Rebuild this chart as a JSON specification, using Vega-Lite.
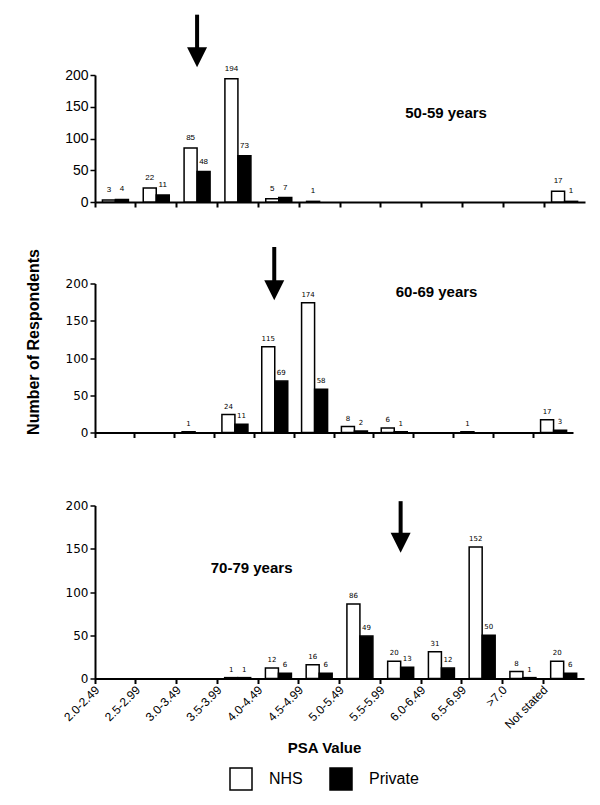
{
  "$schema": "https://vega.github.io/schema/vega-lite/v6.json",
  "padding": {"left": 25, "top": 12, "right": 5, "bottom": 5},
  "background": "white",
  "config": {
    "view": {"stroke": null},
    "font": "Liberation Sans",
    "axis": {"domainColor": "black", "domainWidth": 2, "tickColor": "black", "tickWidth": 1.5, "tickSize": 5, "labelColor": "black", "titleColor": "black", "grid": false, "labelPadding": 2},
    "legend": {"symbolType": "square", "symbolSize": 484, "symbolStrokeColor": "black", "symbolStrokeWidth": 1.5, "symbolOpacity": 1, "labelFontSize": 16, "labelOffset": 16, "columnPadding": 24, "labelColor": "black"}
  },
  "datasets": {
    "bars": [
      {"panel": "50-59", "psa": "2.0-2.49", "sector": "NHS", "n": 3},
      {"panel": "50-59", "psa": "2.0-2.49", "sector": "Private", "n": 4},
      {"panel": "50-59", "psa": "2.5-2.99", "sector": "NHS", "n": 22},
      {"panel": "50-59", "psa": "2.5-2.99", "sector": "Private", "n": 11},
      {"panel": "50-59", "psa": "3.0-3.49", "sector": "NHS", "n": 85},
      {"panel": "50-59", "psa": "3.0-3.49", "sector": "Private", "n": 48},
      {"panel": "50-59", "psa": "3.5-3.99", "sector": "NHS", "n": 194},
      {"panel": "50-59", "psa": "3.5-3.99", "sector": "Private", "n": 73},
      {"panel": "50-59", "psa": "4.0-4.49", "sector": "NHS", "n": 5},
      {"panel": "50-59", "psa": "4.0-4.49", "sector": "Private", "n": 7},
      {"panel": "50-59", "psa": "4.5-4.99", "sector": "NHS", "n": 1},
      {"panel": "50-59", "psa": "Not stated", "sector": "NHS", "n": 17},
      {"panel": "50-59", "psa": "Not stated", "sector": "Private", "n": 1},
      {"panel": "60-69", "psa": "3.0-3.49", "sector": "NHS", "n": 1},
      {"panel": "60-69", "psa": "3.5-3.99", "sector": "NHS", "n": 24},
      {"panel": "60-69", "psa": "3.5-3.99", "sector": "Private", "n": 11},
      {"panel": "60-69", "psa": "4.0-4.49", "sector": "NHS", "n": 115},
      {"panel": "60-69", "psa": "4.0-4.49", "sector": "Private", "n": 69},
      {"panel": "60-69", "psa": "4.5-4.99", "sector": "NHS", "n": 174},
      {"panel": "60-69", "psa": "4.5-4.99", "sector": "Private", "n": 58},
      {"panel": "60-69", "psa": "5.0-5.49", "sector": "NHS", "n": 8},
      {"panel": "60-69", "psa": "5.0-5.49", "sector": "Private", "n": 2},
      {"panel": "60-69", "psa": "5.5-5.99", "sector": "NHS", "n": 6},
      {"panel": "60-69", "psa": "5.5-5.99", "sector": "Private", "n": 1},
      {"panel": "60-69", "psa": "6.5-6.99", "sector": "NHS", "n": 1},
      {"panel": "60-69", "psa": "Not stated", "sector": "NHS", "n": 17},
      {"panel": "60-69", "psa": "Not stated", "sector": "Private", "n": 3},
      {"panel": "70-79", "psa": "3.5-3.99", "sector": "NHS", "n": 1},
      {"panel": "70-79", "psa": "3.5-3.99", "sector": "Private", "n": 1},
      {"panel": "70-79", "psa": "4.0-4.49", "sector": "NHS", "n": 12},
      {"panel": "70-79", "psa": "4.0-4.49", "sector": "Private", "n": 6},
      {"panel": "70-79", "psa": "4.5-4.99", "sector": "NHS", "n": 16},
      {"panel": "70-79", "psa": "4.5-4.99", "sector": "Private", "n": 6},
      {"panel": "70-79", "psa": "5.0-5.49", "sector": "NHS", "n": 86},
      {"panel": "70-79", "psa": "5.0-5.49", "sector": "Private", "n": 49},
      {"panel": "70-79", "psa": "5.5-5.99", "sector": "NHS", "n": 20},
      {"panel": "70-79", "psa": "5.5-5.99", "sector": "Private", "n": 13},
      {"panel": "70-79", "psa": "6.0-6.49", "sector": "NHS", "n": 31},
      {"panel": "70-79", "psa": "6.0-6.49", "sector": "Private", "n": 12},
      {"panel": "70-79", "psa": "6.5-6.99", "sector": "NHS", "n": 152},
      {"panel": "70-79", "psa": "6.5-6.99", "sector": "Private", "n": 50},
      {"panel": "70-79", "psa": ">7.0", "sector": "NHS", "n": 8},
      {"panel": "70-79", "psa": ">7.0", "sector": "Private", "n": 1},
      {"panel": "70-79", "psa": "Not stated", "sector": "NHS", "n": 20},
      {"panel": "70-79", "psa": "Not stated", "sector": "Private", "n": 6}
    ],
    "arrows": [
      {"panel": "50-59", "psa": "3.0-3.49", "top": 295, "head": 228},
      {"panel": "60-69", "psa": "4.0-4.49", "top": 249, "head": 191},
      {"panel": "70-79", "psa": "5.5-5.99", "top": 205, "head": 157}
    ],
    "labels": [
      {"panel": "50-59", "psa": "6.0-6.49", "n": 140, "label": "50-59 years"},
      {"panel": "60-69", "psa": "6.0-6.49", "n": 188, "label": "60-69 years"},
      {"panel": "70-79", "psa": "3.5-3.99", "n": 128, "label": "70-79 years"}
    ]
  },
  "spacing": 59.5,
  "vconcat": [
    {
      "spacing": 35.5,
      "vconcat": [
        {
          "width": 490, "height": 127,
          "layer": [
            {
              "data": {"name": "bars"},
              "transform": [{"filter": "datum.panel === '50-59'"}],
              "mark": {"type": "bar", "stroke": "black", "strokeWidth": 1.5},
              "encoding": {
                "x": {"field": "psa", "type": "nominal", "title": null, "scale": {"domain": ["2.0-2.49","2.5-2.99","3.0-3.49","3.5-3.99","4.0-4.49","4.5-4.99","5.0-5.49","5.5-5.99","6.0-6.49","6.5-6.99",">7.0","Not stated"], "paddingInner": 0, "paddingOuter": 0}, "axis": {"labels": false, "bandPosition": 0, "tickWidth": 2}},
                "xOffset": {"field": "sector", "type": "nominal", "scale": {"domain": ["NHS", "Private"], "paddingInner": 0, "paddingOuter": 0.57}},
                "y": {"field": "n", "type": "quantitative", "title": null, "scale": {"domain": [0, 200], "nice": false}, "axis": {"values": [0, 50, 100, 150, 200], "tickCount": 5, "labelOverlap": false, "labelFontSize": 14, "labelFont": "Liberation Sans"}},
                "color": {"field": "sector", "type": "nominal", "scale": {"domain": ["NHS", "Private"], "range": ["white", "black"]}, "legend": {"title": null, "orient": "none", "direction": "horizontal", "legendX": 134, "legendY": 692}}
              }
            },
            {
              "data": {"name": "bars"},
              "transform": [{"filter": "datum.panel === '50-59'"}],
              "mark": {"type": "text", "baseline": "bottom", "dy": -6, "fontSize": 8, "font": "Liberation Sans", "color": "black"},
              "encoding": {
                "x": {"field": "psa", "type": "nominal"},
                "xOffset": {"field": "sector", "type": "nominal"},
                "y": {"field": "n", "type": "quantitative"},
                "text": {"field": "n", "type": "quantitative"}
              }
            },
            {
              "data": {"name": "arrows"},
              "transform": [{"filter": "datum.panel === '50-59'"}],
              "mark": {"type": "rule", "strokeWidth": 4, "color": "black"},
              "encoding": {"x": {"field": "psa", "type": "nominal"}, "y": {"field": "top", "type": "quantitative"}, "y2": {"field": "head"}}
            },
            {
              "data": {"name": "arrows"},
              "transform": [{"filter": "datum.panel === '50-59'"}],
              "mark": {"type": "point", "shape": "M-1,-1L1,-1L0,1Z", "size": 400, "filled": true, "color": "black", "opacity": 1},
              "encoding": {"x": {"field": "psa", "type": "nominal"}, "y": {"field": "head", "type": "quantitative"}}
            },
            {
              "data": {"name": "labels"},
              "transform": [{"filter": "datum.panel === '50-59'"}],
              "mark": {"type": "text", "fontSize": 15, "fontWeight": "bold", "dx": 4, "color": "black"},
              "encoding": {"x": {"field": "psa", "type": "nominal"}, "y": {"field": "n", "type": "quantitative"}, "text": {"field": "label"}}
            }
          ]
        },
        {
          "width": 478, "height": 149,
          "layer": [
            {
              "data": {"name": "bars"},
              "transform": [{"filter": "datum.panel === '60-69'"}],
              "mark": {"type": "bar", "stroke": "black", "strokeWidth": 1.5},
              "encoding": {
                "x": {"field": "psa", "type": "nominal", "title": null, "scale": {"domain": ["2.0-2.49","2.5-2.99","3.0-3.49","3.5-3.99","4.0-4.49","4.5-4.99","5.0-5.49","5.5-5.99","6.0-6.49","6.5-6.99",">7.0","Not stated"], "paddingInner": 0, "paddingOuter": 0}, "axis": {"labels": false, "bandPosition": 0, "tickWidth": 2}},
                "xOffset": {"field": "sector", "type": "nominal", "scale": {"domain": ["NHS", "Private"], "paddingInner": 0, "paddingOuter": 0.57}},
                "y": {"field": "n", "type": "quantitative", "title": "Number of Respondents", "scale": {"domain": [0, 200], "nice": false}, "axis": {"values": [0, 50, 100, 150, 200], "tickCount": 5, "labelOverlap": false, "labelFontSize": 12, "labelFont": "DejaVu Sans", "titleFontSize": 16, "titleFontWeight": "bold", "titleFont": "Liberation Sans", "titlePadding": 24, "titleY": 58}},
                "color": {"field": "sector", "type": "nominal", "scale": {"domain": ["NHS", "Private"], "range": ["white", "black"]}}
              }
            },
            {
              "data": {"name": "bars"},
              "transform": [{"filter": "datum.panel === '60-69'"}],
              "mark": {"type": "text", "baseline": "bottom", "dy": -5, "fontSize": 7, "font": "DejaVu Sans", "color": "black"},
              "encoding": {
                "x": {"field": "psa", "type": "nominal"},
                "xOffset": {"field": "sector", "type": "nominal"},
                "y": {"field": "n", "type": "quantitative"},
                "text": {"field": "n", "type": "quantitative"}
              }
            },
            {
              "data": {"name": "arrows"},
              "transform": [{"filter": "datum.panel === '60-69'"}],
              "mark": {"type": "rule", "strokeWidth": 4, "color": "black"},
              "encoding": {"x": {"field": "psa", "type": "nominal"}, "y": {"field": "top", "type": "quantitative"}, "y2": {"field": "head"}}
            },
            {
              "data": {"name": "arrows"},
              "transform": [{"filter": "datum.panel === '60-69'"}],
              "mark": {"type": "point", "shape": "M-1,-1L1,-1L0,1Z", "size": 400, "filled": true, "color": "black", "opacity": 1},
              "encoding": {"x": {"field": "psa", "type": "nominal"}, "y": {"field": "head", "type": "quantitative"}}
            },
            {
              "data": {"name": "labels"},
              "transform": [{"filter": "datum.panel === '60-69'"}],
              "mark": {"type": "text", "fontSize": 15, "fontWeight": "bold", "dx": 3, "color": "black"},
              "encoding": {"x": {"field": "psa", "type": "nominal"}, "y": {"field": "n", "type": "quantitative"}, "text": {"field": "label"}}
            }
          ]
        }
      ]
    },
    {
      "width": 489, "height": 173,
      "layer": [
        {
          "data": {"name": "bars"},
          "transform": [{"filter": "datum.panel === '70-79'"}],
          "mark": {"type": "bar", "stroke": "black", "strokeWidth": 1.5},
          "encoding": {
            "x": {"field": "psa", "type": "nominal", "title": "PSA Value", "scale": {"domain": ["2.0-2.49","2.5-2.99","3.0-3.49","3.5-3.99","4.0-4.49","4.5-4.99","5.0-5.49","5.5-5.99","6.0-6.49","6.5-6.99",">7.0","Not stated"], "paddingInner": 0, "paddingOuter": 0}, "axis": {"labels": true, "bandPosition": 0, "tickWidth": 2, "labelAngle": -45, "labelAlign": "right", "labelBaseline": "middle", "labelOffset": -18, "labelFontSize": 12, "labelPadding": 4, "titleFontSize": 15, "titleFontWeight": "bold", "titlePadding": 10, "titleX": 229}},
            "xOffset": {"field": "sector", "type": "nominal", "scale": {"domain": ["NHS", "Private"], "paddingInner": 0, "paddingOuter": 0.57}},
            "y": {"field": "n", "type": "quantitative", "title": null, "scale": {"domain": [0, 200], "nice": false}, "axis": {"values": [0, 50, 100, 150, 200], "tickCount": 5, "labelOverlap": false, "labelFontSize": 12, "labelFont": "DejaVu Sans"}},
            "color": {"field": "sector", "type": "nominal", "scale": {"domain": ["NHS", "Private"], "range": ["white", "black"]}}
          }
        },
        {
          "data": {"name": "bars"},
          "transform": [{"filter": "datum.panel === '70-79'"}],
          "mark": {"type": "text", "baseline": "bottom", "dy": -5, "fontSize": 7, "font": "DejaVu Sans", "color": "black"},
          "encoding": {
            "x": {"field": "psa", "type": "nominal"},
            "xOffset": {"field": "sector", "type": "nominal"},
            "y": {"field": "n", "type": "quantitative"},
            "text": {"field": "n", "type": "quantitative"}
          }
        },
        {
          "data": {"name": "arrows"},
          "transform": [{"filter": "datum.panel === '70-79'"}],
          "mark": {"type": "rule", "strokeWidth": 4, "color": "black"},
          "encoding": {"x": {"field": "psa", "type": "nominal"}, "y": {"field": "top", "type": "quantitative"}, "y2": {"field": "head"}}
        },
        {
          "data": {"name": "arrows"},
          "transform": [{"filter": "datum.panel === '70-79'"}],
          "mark": {"type": "point", "shape": "M-1,-1L1,-1L0,1Z", "size": 400, "filled": true, "color": "black", "opacity": 1},
          "encoding": {"x": {"field": "psa", "type": "nominal"}, "y": {"field": "head", "type": "quantitative"}}
        },
        {
          "data": {"name": "labels"},
          "transform": [{"filter": "datum.panel === '70-79'"}],
          "mark": {"type": "text", "fontSize": 15, "fontWeight": "bold", "dx": 14, "color": "black"},
          "encoding": {"x": {"field": "psa", "type": "nominal"}, "y": {"field": "n", "type": "quantitative"}, "text": {"field": "label"}}
        }
      ]
    }
  ]
}
